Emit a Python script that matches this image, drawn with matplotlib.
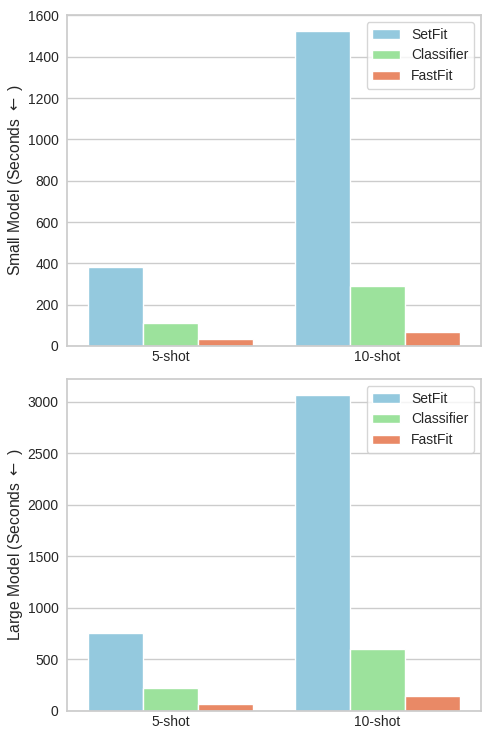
import matplotlib
matplotlib.use("Agg")
import matplotlib.pyplot as plt
import seaborn as sns
import pandas as pd

shots = ["5-shot", "10-shot"]
methods = ["SetFit", "Classifier", "FastFit"]
small_setfit = [380, 1526]
small_classifier = [110, 291]
small_fastfit = [33, 70]
large_setfit = [761, 3068]
large_classifier = [223, 602]
large_fastfit = [68, 150]
palette = ["skyblue", "lightgreen", "coral"]

sns.set_theme(style="whitegrid")
plt.rcParams['font.family'] = ['Liberation Sans', 'DejaVu Sans']

def make_df(s, c, f):
    rows = []
    for i, shot in enumerate(shots):
        rows.append((shot, "SetFit", s[i]))
        rows.append((shot, "Classifier", c[i]))
        rows.append((shot, "FastFit", f[i]))
    return pd.DataFrame(rows, columns=["shot", "method", "time"])

fig = plt.figure(figsize=(4.82, 7.29), dpi=100)
ax1 = fig.add_axes([0.139, 0.5254, 0.859, 0.454])
ax2 = fig.add_axes([0.139, 0.0247, 0.859, 0.4554])

for ax, (s, c, f), lab in [
    (ax1, (small_setfit, small_classifier, small_fastfit), "Small Model (Seconds $\\leftarrow$ )"),
    (ax2, (large_setfit, large_classifier, large_fastfit), "Large Model (Seconds $\\leftarrow$ )"),
]:
    df = make_df(s, c, f)
    sns.barplot(data=df, x="shot", y="time", hue="method", hue_order=methods,
                palette=palette, ax=ax, saturation=0.75)
    ax.set_xlabel("")
    ax.set_ylabel(lab, fontsize=11.3, labelpad=2)
    ax.tick_params(axis="x", labelsize=10, length=0, pad=3)
    ax.tick_params(axis="y", labelsize=10, length=0, pad=6)
    ax.legend(loc="upper right", fontsize=10, title=None)

fig.savefig("out.png", dpi=100)
